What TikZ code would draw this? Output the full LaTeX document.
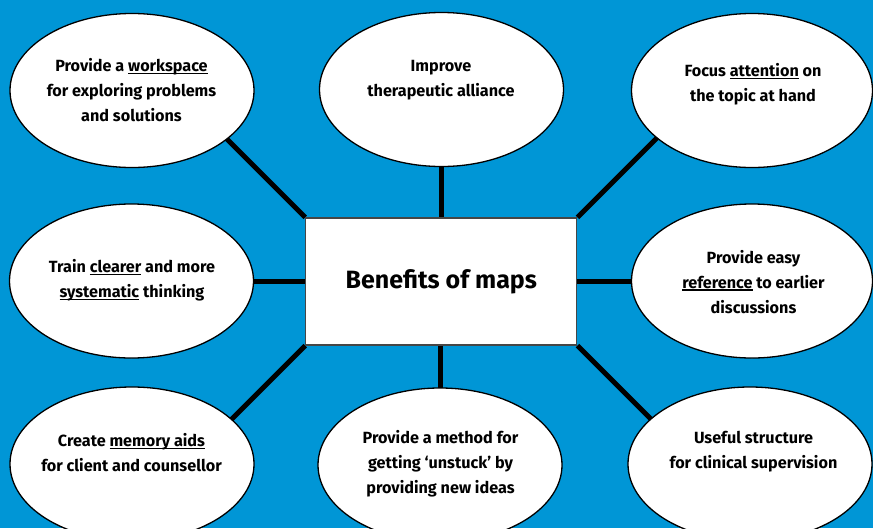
\documentclass[tikz,border=0pt]{standalone}
\usepackage{fontspec}
\setmainfont{Fira Sans}
\usetikzlibrary{backgrounds,calc,shapes.geometric}
\definecolor{bg}{RGB}{0,150,214}
\definecolor{hubline}{RGB}{70,70,70}
\newcommand\myul[1]{\setbox0\hbox{#1}\rlap{\rule[-2.6pt]{\wd0}{1.3pt}}\box0\relax}
\begin{document}
\begin{tikzpicture}[x=1pt,y=-1pt,
  bubble/.style={ellipse, draw=black, line width=1.3pt, fill=white, minimum width=244pt, minimum height=154pt, inner sep=0pt},
  txt/.style={font=\bfseries\fontsize{16.2}{25}\selectfont, align=center, inner sep=0pt},
  conn/.style={line width=5pt, draw=black},
  hub/.style={rectangle, draw=hubline, line width=1.2pt, fill=white, minimum width=271pt, minimum height=127pt, inner sep=0pt, font=\bfseries\fontsize{25}{28}\selectfont}]
\begin{scope}[on background layer]
  \fill[bg] (0,0) rectangle (873,528);
\end{scope}
\useasboundingbox (0,0) rectangle (873,528);
\clip (0,0) rectangle (873,528);

\node[hub] (r) at (441.3,281.5) {Benefits of maps};

\node[bubble] (tl) at (132,90.5) {};
\node[bubble] (tm) at (441.5,89.5) {};
\node[bubble, minimum width=241pt] (tr) at (752,90.5) {};
\node[bubble] (ml) at (131.5,281) {};
\node[bubble, minimum width=241pt] (mr) at (752,281) {};
\node[bubble] (bl) at (132,464) {};
\node[bubble] (bm) at (440,465) {};
\node[bubble] (br) at (750,464) {};

\node[txt] (tlt) at (131.5,90) {Provide a \myul{workspace}\\for exploring problems\\and solutions};
\node[txt] (tmt) at (441,80.5) {Improve\\therapeutic alliance};
\node[txt] (trt) at (753,84.5) {Focus \myul{attention} on\\the topic at hand};
\node[txt] (mlt) at (132,280.5) {Train \myul{clearer} and more\\\myul{systematic} thinking};
\node[txt] (mrt) at (753.5,281.7) {Provide easy\\\myul{reference} to earlier\\discussions};
\node[txt] (blt) at (131.5,452.5) {Create \myul{memory aids}\\for client and counsellor};
\node[txt] (bmt) at (440.5,464) {Provide a method for\\getting ‘unstuck’ by\\providing new ideas};
\node[txt] (brt) at (753.5,452) {Useful structure\\for clinical supervision};

\coordinate (tlx) at ($(r.north west)+(-110,-110)$);
\coordinate (trx) at ($(r.north east)+(110,-110)$);
\coordinate (blx) at ($(r.south west)+(-110,110)$);
\coordinate (brx) at ($(r.south east)+(110,110)$);

\begin{scope}[on background layer]
  \draw[conn] (tm.center) -- (tm.center |- r.center);
  \draw[conn] (bm.center) -- (bm.center |- r.center);
  \draw[conn] (ml.center) -- (r.west |- ml.center);
  \draw[conn] (r.east |- mr.center) -- (mr.center);
  \draw[conn] (r.north west) -- (tlx);
  \draw[conn] (r.north east) -- (trx);
  \draw[conn] (r.south west) -- (blx);
  \draw[conn] (r.south east) -- (brx);
\end{scope}
\end{tikzpicture}
\end{document}
